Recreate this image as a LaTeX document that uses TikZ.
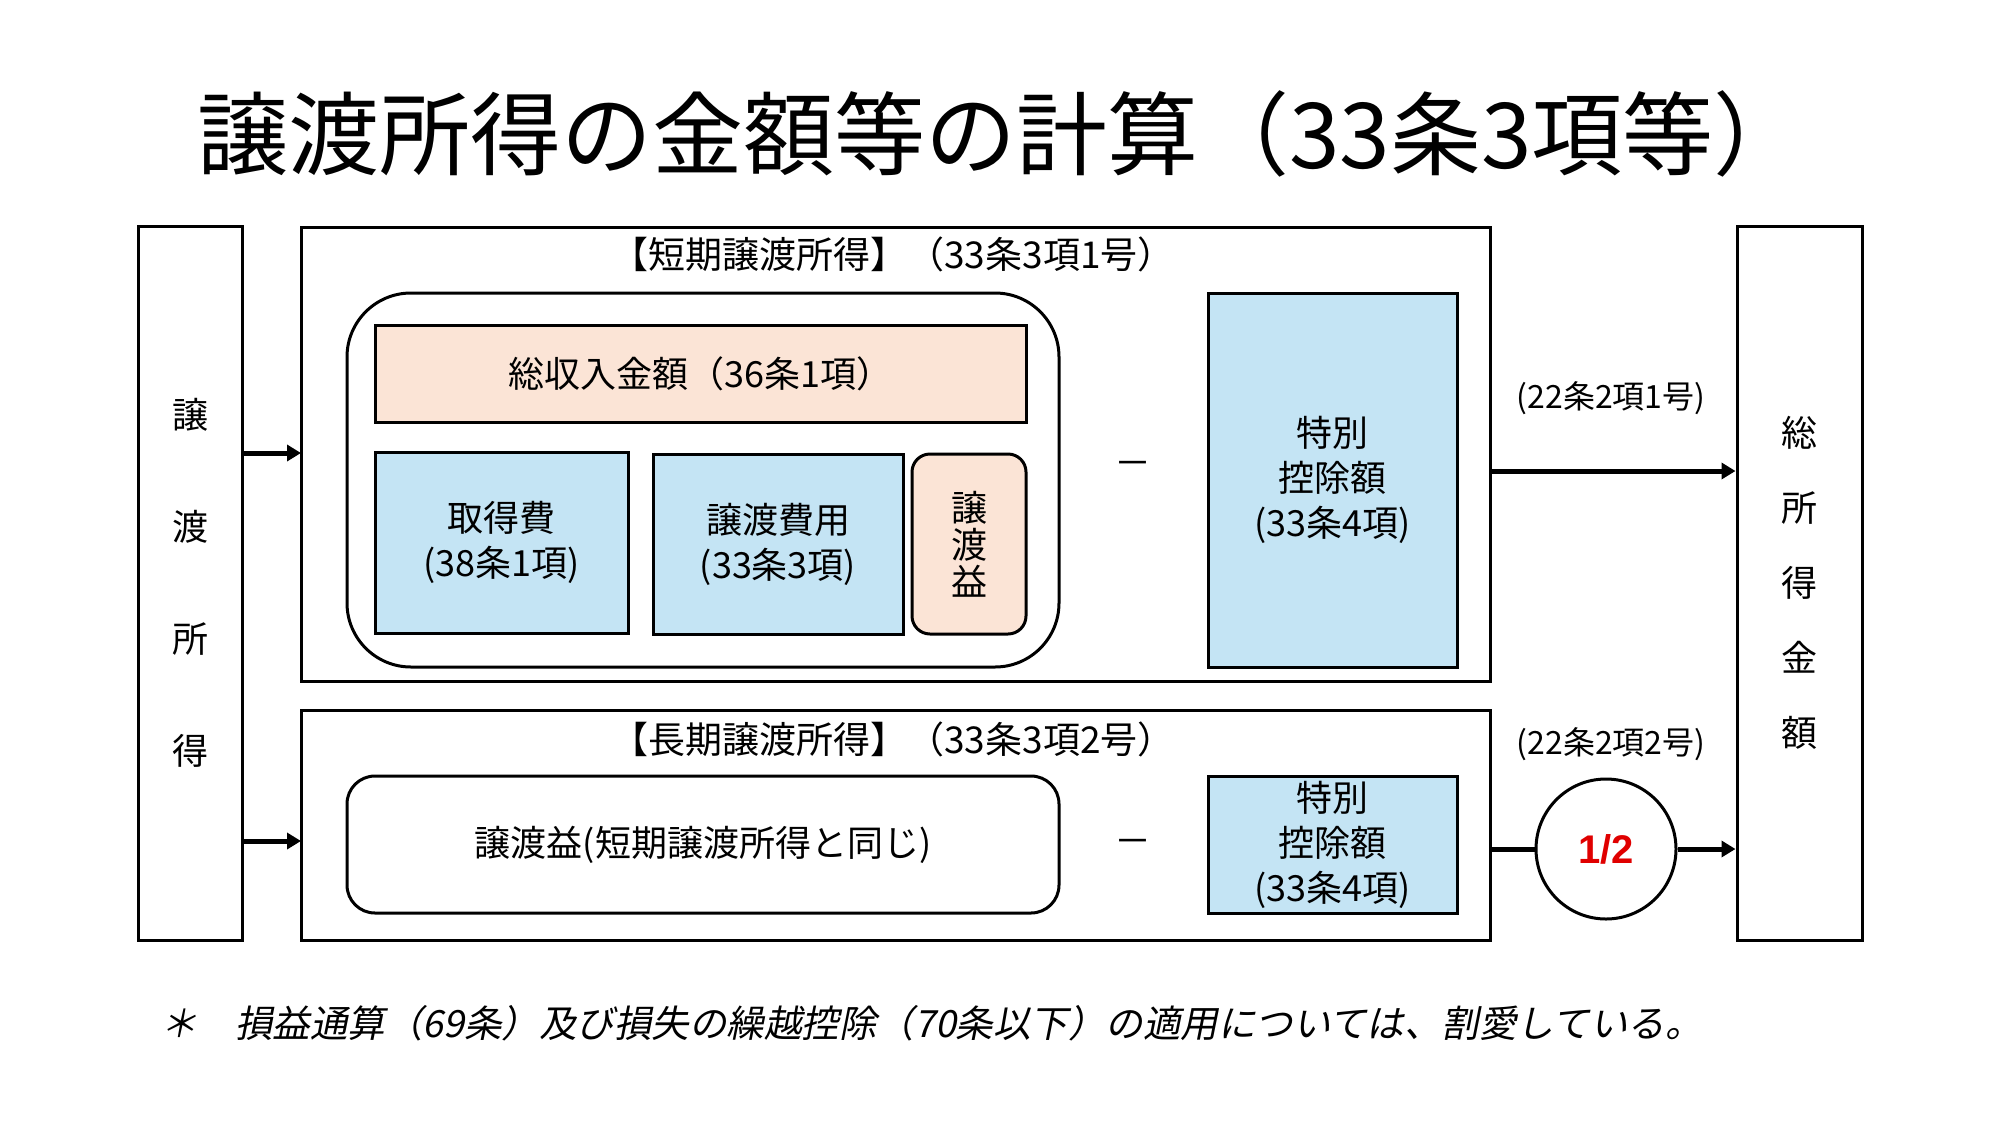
\documentclass[tikz,border=0pt]{standalone}
\usepackage{fontspec}
\setmainfont{Noto Sans CJK JP}
\newfontfamily\jpit[FakeSlant=0.2]{Noto Sans CJK JP}
\newfontfamily\latinb{Liberation Sans}
\usetikzlibrary{arrows.meta}
\definecolor{peach}{HTML}{FBE4D6}
\definecolor{lblue}{HTML}{C4E4F4}
\definecolor{hred}{HTML}{E00000}
\newcommand\myfs[2]{\fontsize{#1pt}{#2pt}\selectfont}
\tikzset{
  frame/.style={draw=black, line width=3pt, inner sep=0pt, align=center, font=\myfs{36}{45}},
  bluebox/.style={frame, fill=lblue},
  peachbox/.style={frame, fill=peach},
  arr/.style={line width=5pt, -{Triangle[length=14pt,width=16pt]}},
  plain/.style={line width=5pt},
  lbl/.style={inner sep=0pt, font=\myfs{37}{45}},
}
\begin{document}
\begin{tikzpicture}[x=1pt,y=-1pt]
\fill[white] (0,0) rectangle (2000,1125);
\useasboundingbox (0,0) rectangle (2000,1125);

% title
\node[inner sep=0pt, font=\myfs{91}{100}] (title) at (1001,134) {譲渡所得の金額等の計算（33条3項等）};

% left and right tall boxes
\node[frame, minimum width=104pt, minimum height=714pt, font=\myfs{36}{112}] (lb) at (190,583) {譲\\渡\\所\\得};
\node[frame, minimum width=125pt, minimum height=714pt, font=\myfs{36}{75}] (rb) at (1799.5,583) {総\\所\\得\\金\\額};

% short-term block
\node[frame, minimum width=1189pt, minimum height=454pt] (sb) at (895.5,454) {};
\node[lbl] (sbh) at (893,254) {【短期譲渡所得】（33条3項1号）};
\node[frame, rounded corners=64pt, minimum width=712pt, minimum height=374pt] (sin) at (703,480) {};
\node[peachbox, minimum width=651pt, minimum height=97pt] (rev) at (700.5,373.5) {総収入金額（36条1項）};
\node[bluebox, minimum width=253pt, minimum height=181pt] (acq) at (501.5,542.5) {取得費\\(38条1項)};
\node[bluebox, minimum width=250pt, minimum height=180pt] (exp) at (778,544) {譲渡費用\\(33条3項)};
\node[peachbox, rounded corners=18pt, minimum width=114pt, minimum height=180pt, font=\myfs{36}{37}] (gain) at (969,544) {譲\\渡\\益};
\node[lbl] (m1) at (1133,469) {－};
\node[bluebox, minimum width=249pt, minimum height=374pt] (sp1) at (1332.5,480) {特別\\控除額\\(33条4項)};

% long-term block
\node[frame, minimum width=1189pt, minimum height=230pt] (lgb) at (895.5,825) {};
\node[lbl] (lgh) at (893,739) {【長期譲渡所得】（33条3項2号）};
\node[frame, rounded corners=28pt, minimum width=712pt, minimum height=137pt] (lin) at (703,844.5) {譲渡益(短期譲渡所得と同じ)};
\node[lbl] (m2) at (1133,847) {－};
\node[bluebox, minimum width=249pt, minimum height=137pt] (sp2) at (1332.5,844.5) {特別\\控除額\\(33条4項)};
\node[draw=black, line width=3pt, circle, minimum size=140pt, inner sep=0pt, font=\latinb\bfseries\myfs{40}{48}, text=hred] (half) at (1606,849) {1/2};

% labels on right arrows
\node[inner sep=0pt, font=\myfs{32}{40}] (l1) at (1611,398) {(22条2項1号)};
\node[inner sep=0pt, font=\myfs{32}{40}] (l2) at (1611,744) {(22条2項2号)};

% connectors
\coordinate (a1) at (301,453);
\coordinate (a2) at (301,841);
\coordinate (a3) at (1490,471);
\draw[arr] (lb.east |- a1) -- (a1);
\draw[arr] (lb.east |- a2) -- (a2);
\draw[arr] (a3) -- (rb.west |- a3);
\draw[plain] (lgb.east |- half.center) -- (half.west);
\draw[arr] (half.east) -- (rb.west |- half.center);

% footnote
\node[anchor=west, inner sep=0pt, font=\jpit\myfs{37.5}{44}] (foot) at (160,1023) {＊　損益通算（69条）及び損失の繰越控除（70条以下）の適用については、割愛している。};
\end{tikzpicture}
\end{document}
